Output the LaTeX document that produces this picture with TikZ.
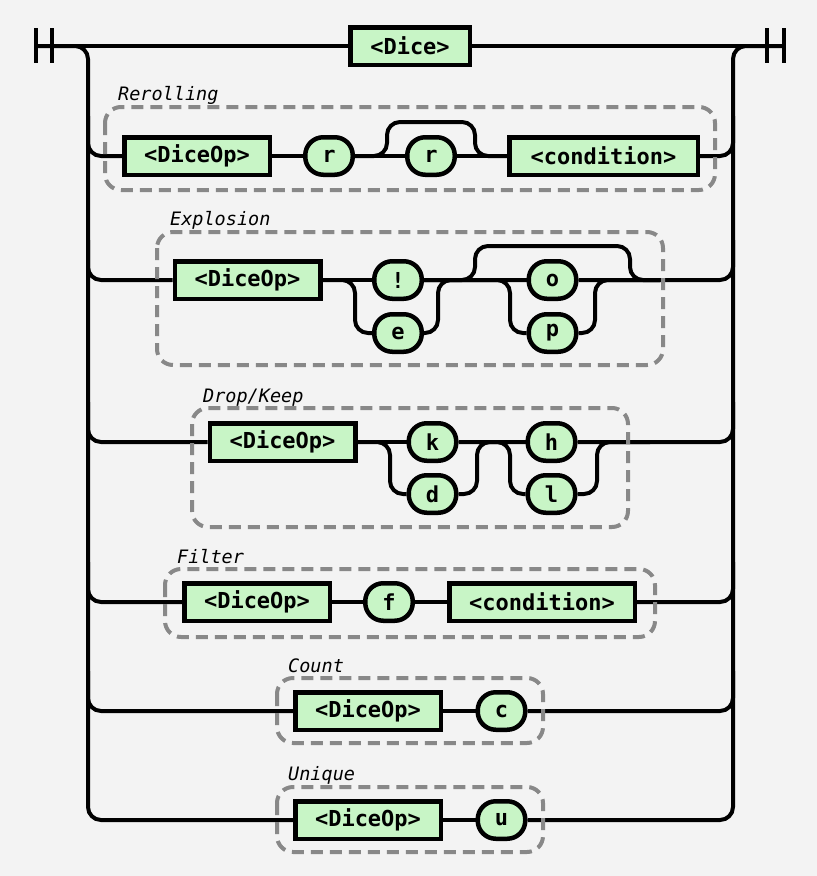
\documentclass[tikz,border=0pt]{standalone}
\usepackage{fontspec}
\usetikzlibrary{calc}
\newfontfamily\rrmono{DejaVu Sans Mono}
\newcommand\rrboxfont{\rrmono\bfseries\fontsize{22}{24}\selectfont}
\newcommand\rrlblfont{\rrmono\itshape\fontsize{18.5}{20}\selectfont}
\definecolor{bgcol}{HTML}{F3F3F3}
\definecolor{boxgreen}{HTML}{C8F5C6}
\definecolor{grpgray}{HTML}{888888}
\tikzset{
  nt/.style={draw=black, line width=4.5pt, fill=boxgreen, inner sep=0pt,
    minimum height=37.5pt, font=\rrboxfont, text=black},
  term/.style={nt, rounded corners=18pt, minimum width=47.5pt},
  rail/.style={draw=black, line width=4pt, rounded corners=13pt},
  bar/.style={draw=black, line width=4pt},
  grp/.style={draw=grpgray, line width=4pt, dash pattern=on 12pt off 7pt, rounded corners=16pt},
  lbl/.style={anchor=base west, inner sep=0pt, font=\rrlblfont, text=black},
}
\begin{document}
\begin{tikzpicture}[x=1pt,y=-1pt]
\fill[bgcol] (0,0) rectangle (817,876);
\useasboundingbox (0,0) rectangle (817,876);

% ---- nodes ----
\node[nt, minimum width=119.5pt] (dice) at (410,46) {<Dice>};

\node[nt, minimum width=145.5pt] (a1) at (197,156) {<DiceOp>};
\node[term] (r1) at (329,156) {r};
\node[term] (r2) at (431,156) {r};
\node[nt, minimum width=188.5pt] (c1) at (603.5,156) {<condition>};

\node[nt, minimum width=145.5pt] (a2) at (247.5,280) {<DiceOp>};
\node[term] (ex) at (398,280) {!};
\node[term] (ee) at (398,333) {e};
\node[term] (eo) at (552.5,280) {o};
\node[term] (ep) at (552.5,333) {p};

\node[nt, minimum width=145.5pt] (a3) at (282.5,442) {<DiceOp>};
\node[term] (kk) at (432.5,442) {k};
\node[term] (kd) at (432.5,494) {d};
\node[term] (kh) at (551.5,442) {h};
\node[term] (kl) at (551.5,494) {l};

\node[nt, minimum width=145.5pt] (a4) at (257,602) {<DiceOp>};
\node[term] (ff) at (389,602) {f};
\node[nt, minimum width=185.5pt] (c4) at (542,602) {<condition>};

\node[nt, minimum width=145.5pt] (a5) at (368,711) {<DiceOp>};
\node[term] (cc) at (501.5,711) {c};

\node[nt, minimum width=145.5pt] (a6) at (368,820) {<DiceOp>};
\node[term] (uu) at (501.5,820) {u};

% ---- labels ----
\node[lbl] (t1) at (118,100) {Rerolling};
\node[lbl] (t2) at (170,225) {Explosion};
\node[lbl] (t3) at (203,402) {Drop/Keep};
\node[lbl] (t4) at (177,563) {Filter};
\node[lbl] (t5) at (288,672) {Count};
\node[lbl] (t6) at (288,780) {Unique};

% ---- coordinates ----
\coordinate (HL) at (36,46);
\coordinate (HR) at (784,46);
\coordinate (LT) at (88,46);
\coordinate (LB) at (88,820);
\coordinate (RT) at (733,46);
\coordinate (RB) at (733,820);
\coordinate (L1) at (88,156);  \coordinate (R1) at (733,156);
\coordinate (L2) at (88,280);  \coordinate (R2) at (733,280);
\coordinate (L3) at (88,442);  \coordinate (R3) at (733,442);
\coordinate (L4) at (88,602);  \coordinate (R4) at (733,602);
\coordinate (L5) at (88,711);  \coordinate (R5) at (733,711);

% ---- end bars ----
\draw[bar] (36,28) -- (36,63);
\draw[bar] (52,28) -- (52,63);
\draw[bar] (767,28) -- (767,63);
\draw[bar] (784,28) -- (784,63);

% ---- top line and rails ----
\draw[rail] (HL) -- (dice.west);
\draw[rail] (dice.east) -- (HR);
\draw[rail] (HL) -- (LT) -- (LB) -- (a6.west);
\draw[rail] (uu.east) -- (RB) -- (RT) -- (HR);

% ---- row 1: Rerolling ----
\draw[rail] ($(L1)+(0,-40)$) -- (L1) -- (a1.west);
\draw[rail] (a1.east) -- (r1.west);
\draw[rail] (r1.east) -- (r2.west);
\draw[rail] (r2.east) -- (c1.west);
\draw[rail] (r1.east) -- (387,156) -- (387,122) -- (475,122) -- (475,156) -- (c1.west);
\draw[rail] (c1.east) -- (R1) -- ($(R1)+(0,-40)$);

% ---- row 2: Explosion ----
\draw[rail] ($(L2)+(0,-40)$) -- (L2) -- (a2.west);
\draw[rail] (a2.east) -- (ex.west);
\draw[rail] (a2.east) -- (355,280) -- (355,333) -- (ee.west);
\draw[rail] (ex.east) -- (eo.west);
\draw[rail] (ee.east) -- (438,333) -- (438,280) -- (eo.west);
\draw[rail] (ex.east) -- (475,280) -- (475,246) -- (630,246) -- (630,280) -- (660,280);
\draw[rail] (ex.east) -- (510,280) -- (510,333) -- (ep.west);
\draw[rail] (ep.east) -- (595,333) -- (595,280) -- (660,280);
\draw[rail] (eo.east) -- (R2) -- ($(R2)+(0,-40)$);

% ---- row 3: Drop/Keep ----
\draw[rail] ($(L3)+(0,-40)$) -- (L3) -- (a3.west);
\draw[rail] (a3.east) -- (kk.west);
\draw[rail] (a3.east) -- (390,442) -- (390,494) -- (kd.west);
\draw[rail] (kk.east) -- (kh.west);
\draw[rail] (kd.east) -- (477,494) -- (477,442) -- (kh.west);
\draw[rail] (kk.east) -- (510,442) -- (510,494) -- (kl.west);
\draw[rail] (kl.east) -- (597,494) -- (597,442) -- (650,442);
\draw[rail] (kh.east) -- (R3) -- ($(R3)+(0,-40)$);

% ---- row 4: Filter ----
\draw[rail] ($(L4)+(0,-40)$) -- (L4) -- (a4.west);
\draw[rail] (a4.east) -- (ff.west);
\draw[rail] (ff.east) -- (c4.west);
\draw[rail] (c4.east) -- (R4) -- ($(R4)+(0,-40)$);

% ---- row 5: Count ----
\draw[rail] ($(L5)+(0,-40)$) -- (L5) -- (a5.west);
\draw[rail] (a5.east) -- (cc.west);
\draw[rail] (cc.east) -- (R5) -- ($(R5)+(0,-40)$);

% ---- row 6: Unique ----
\draw[rail] (a6.east) -- (uu.west);

% ---- dashed groups ----
\draw[grp] (105,107) rectangle (715,190);
\draw[grp] (157,232) rectangle (663,365);
\draw[grp] (192,408) rectangle (628,527);
\draw[grp] (165,569) rectangle (655,637);
\draw[grp] (277,678) rectangle (543,743);
\draw[grp] (277,787) rectangle (543,852);
\end{tikzpicture}
\end{document}
